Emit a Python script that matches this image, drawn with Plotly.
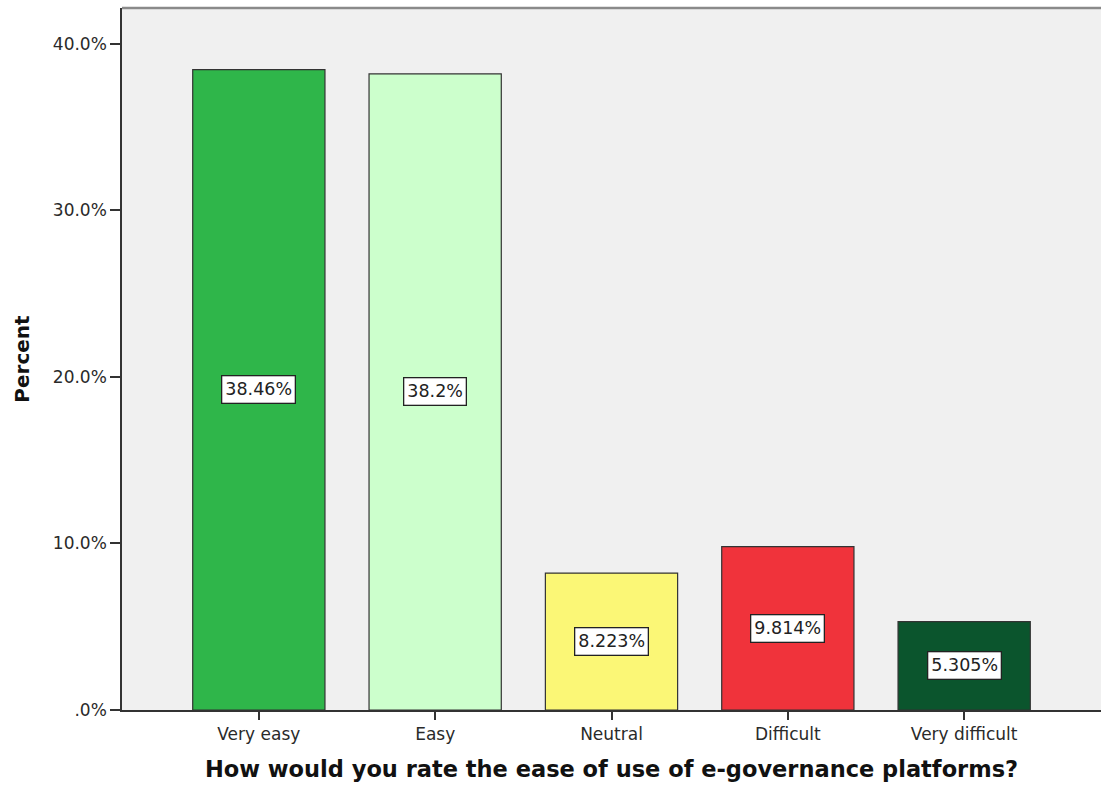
import plotly.graph_objects as go

categories = ["Very easy", "Easy", "Neutral", "Difficult", "Very difficult"]
percents = [38.46, 38.2, 8.223, 9.814, 5.305]
value_labels = ["38.46%", "38.2%", "8.223%", "9.814%", "5.305%"]
bar_colors = ["#2fb64a", "#ccffcc", "#fbf776", "#f0333b", "#0b552d"]
y_tick_vals = [0, 10, 20, 30, 40]
y_tick_text = [".0%", "10.0%", "20.0%", "30.0%", "40.0%"]

fig = go.Figure()
fig.add_trace(go.Bar(
    x=list(range(len(categories))),
    y=percents,
    width=0.75,
    marker=dict(color=bar_colors, line=dict(color="#333333", width=1.2)),
    hoverinfo="skip",
))

for i, (v, lab) in enumerate(zip(percents, value_labels)):
    fig.add_annotation(
        x=i, y=v / 2, text=lab, showarrow=False,
        font=dict(family="DejaVu Sans", size=17.5, color="#222222"),
        bgcolor="white", bordercolor="#222222", borderwidth=1.3, borderpad=3,
    )

fig.add_shape(type="line", xref="paper", yref="paper", x0=0, x1=1, y0=1, y1=1,
              line=dict(color="#8a8a8a", width=2.5))

fig.update_layout(
    width=1101, height=787,
    margin=dict(l=122, r=0, t=8, b=77),
    paper_bgcolor="white", plot_bgcolor="#f0f0f0",
    showlegend=False,
    font=dict(family="DejaVu Sans", size=17, color="#222222"),
)
fig.update_xaxes(
    range=[-0.776, 4.776],
    tickvals=list(range(len(categories))), ticktext=categories,
    ticks="outside", ticklen=8, tickwidth=1.5, tickcolor="#333333",
    showline=True, linecolor="#333333", linewidth=1.5,
    showgrid=False, zeroline=False,
    tickfont=dict(family="DejaVu Sans", size=17, color="#2a2a2a"),
    title=dict(text="<b>How would you rate the ease of use of e-governance platforms?</b>",
               font=dict(family="DejaVu Sans", size=22.5, color="#111111"), standoff=18),
)
fig.update_yaxes(
    range=[0, 42.16],
    tickvals=y_tick_vals, ticktext=y_tick_text,
    ticks="outside", ticklen=10, tickwidth=1.5, tickcolor="#333333",
    showline=True, linecolor="#333333", linewidth=1.5,
    showgrid=False, zeroline=False,
    tickfont=dict(family="DejaVu Sans", size=17, color="#2a2a2a"),
    title=dict(text="<b>Percent</b>", font=dict(family="DejaVu Sans", size=20, color="#111111"), standoff=18),
)

fig.write_html("out.html")
